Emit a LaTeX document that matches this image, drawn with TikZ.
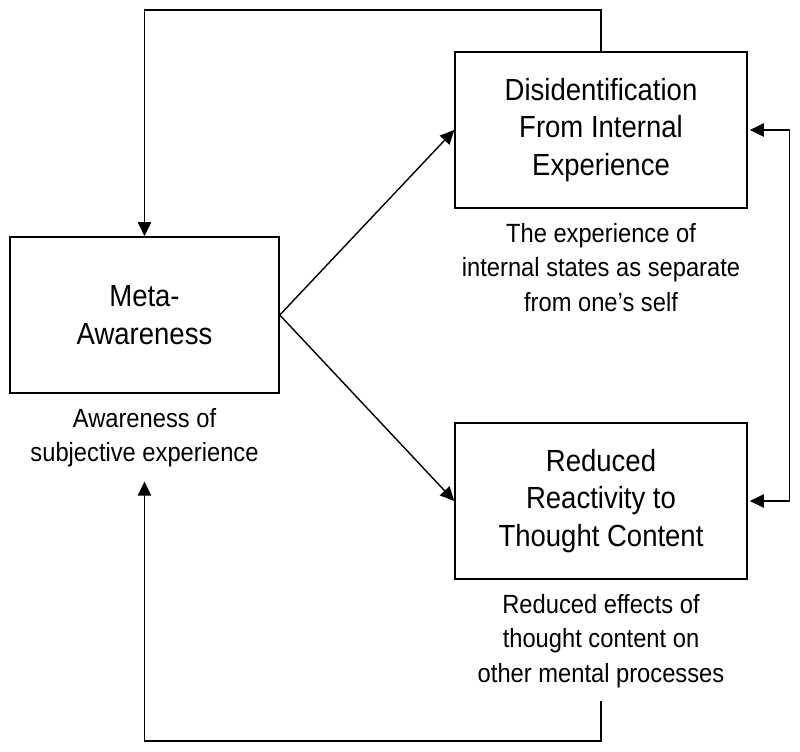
\documentclass[tikz,border=0pt]{standalone}
\usepackage{fontspec}
\setmainfont[FakeStretch=0.9]{Liberation Sans}
\usetikzlibrary{arrows.meta,positioning}

\begin{document}
\begin{tikzpicture}[x=0.02cm,y=-0.02cm]
	\tikzstyle{main_box}=[draw,line width=0.9pt,rectangle,minimum width=5.84cm,minimum height=3.12cm,align=center,inner sep=0pt,font=\fontsize{17.4}{21.5}\selectfont]
	\tikzstyle{note_text}=[align=center,inner sep=0pt,font=\fontsize{15}{19.6}\selectfont]
	\tikzstyle{flow_line}=[line width=0.8pt,-{Triangle[length=8pt,width=7.5pt]}]
	\useasboundingbox (0,0) rectangle (800,751);
	\node [main_box,minimum width=5.38cm] (meta) at (144.5,315) {Meta-\\Awareness};
	\node [main_box] (dis) at (601,130) {Disidentification\\From Internal\\Experience};
	\node [main_box] (red) at (601,501) {Reduced\\Reactivity to\\Thought Content};
	\node [note_text,below=0.28cm of meta] (meta_note) {Awareness of\\subjective experience};
	\node [note_text,below=0.28cm of dis] (dis_note) {The experience of\\internal states as separate\\from one’s self};
	\node [note_text,below=0.28cm of red] (red_note) {Reduced effects of\\thought content on\\other mental processes};
	% forward links
	\draw [flow_line] (meta.east) -- (dis.west);
	\draw [flow_line] (meta.east) -- (red.west);
	% feedback loops
	\draw [flow_line] (dis.north) -- (dis.north |- 0,10) -| (meta.north);
	\draw [flow_line,shorten <=0.26cm,shorten >=0.28cm] (red_note.south) -- (red_note.south |- 0,741) -| (meta_note.south);
	\draw [line width=0.8pt,{Triangle[length=8pt,width=7.5pt]}-{Triangle[length=8pt,width=7.5pt]},shorten <=0.04cm,shorten >=0.04cm] (dis.east) -- ++(42,0) |- (red.east);
\end{tikzpicture}
\end{document}
